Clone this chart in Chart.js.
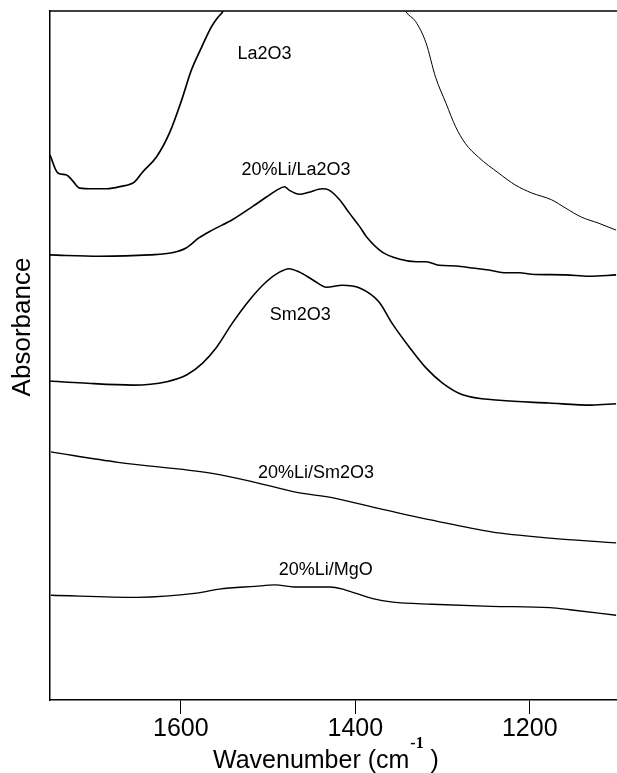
<!DOCTYPE html>
<html>
<head>
<meta charset="utf-8">
<script src="https://cdn.jsdelivr.net/npm/chart.js@4/dist/chart.umd.min.js"></script>
<style>
  html, body { margin: 0; padding: 0; background: #fff; }
  #wrap { width: 617px; height: 773px; }
</style>
</head>
<body>
<div id="wrap"><canvas id="irChart" width="617" height="773"></canvas></div>
<script>
// --- data (wavenumber, absorbance in arbitrary units) ---
const xTicks = [1600, 1400, 1200];

const la2o3Wn  = [1750, 1741, 1731, 1725, 1716, 1701, 1685, 1670, 1653, 1644, 1628, 1613, 1599, 1588, 1576, 1565, 1558, 1552, 1530, 1450, 1360, 1342, 1331, 1319, 1308, 1296, 1285, 1274, 1259, 1236, 1216, 1198, 1175, 1159, 1141, 1121, 1101];
const la2o3Abs = [7.91, 7.65, 7.62, 7.55, 7.43, 7.42, 7.42, 7.45, 7.52, 7.66, 7.88, 8.23, 8.71, 9.14, 9.48, 9.77, 9.90, 9.99, 10.6, 11.0, 10.5, 9.99, 9.85, 9.54, 9.04, 8.66, 8.32, 8.08, 7.88, 7.65, 7.47, 7.36, 7.26, 7.14, 7.01, 6.92, 6.82];

const liLaWn  = [1750, 1693, 1636, 1610, 1594, 1579, 1564, 1541, 1518, 1502, 1490, 1481, 1476, 1464, 1453, 1438, 1430, 1418, 1407, 1395, 1387, 1369, 1350, 1330, 1319, 1304, 1284, 1266, 1247, 1227, 1212, 1198, 1159, 1132, 1101];
const liLaAbs = [6.46, 6.44, 6.46, 6.49, 6.56, 6.71, 6.82, 6.97, 7.16, 7.30, 7.40, 7.45, 7.40, 7.34, 7.37, 7.42, 7.40, 7.26, 7.07, 6.87, 6.72, 6.50, 6.40, 6.36, 6.36, 6.31, 6.30, 6.27, 6.24, 6.20, 6.20, 6.18, 6.17, 6.15, 6.17];

const sm2o3Wn  = [1750, 1712, 1655, 1616, 1593, 1575, 1559, 1541, 1521, 1502, 1487, 1476, 1464, 1449, 1433, 1415, 1395, 1373, 1358, 1338, 1319, 1300, 1277, 1235, 1178, 1129, 1101];
const sm2o3Abs = [4.63, 4.60, 4.57, 4.62, 4.72, 4.89, 5.12, 5.47, 5.81, 6.07, 6.21, 6.26, 6.21, 6.10, 5.99, 6.02, 5.98, 5.78, 5.47, 5.12, 4.82, 4.60, 4.43, 4.35, 4.31, 4.28, 4.30];

const liSmWn  = [1749, 1672, 1564, 1515, 1470, 1424, 1380, 1312, 1244, 1177, 1101];
const liSmAbs = [3.60, 3.45, 3.29, 3.16, 3.02, 2.93, 2.80, 2.61, 2.44, 2.35, 2.28];

const liMgWn  = [1749, 1650, 1582, 1556, 1515, 1492, 1470, 1429, 1412, 1380, 1357, 1312, 1244, 1177, 1154, 1101];
const liMgAbs = [1.52, 1.49, 1.55, 1.61, 1.65, 1.67, 1.64, 1.64, 1.60, 1.47, 1.42, 1.39, 1.36, 1.34, 1.31, 1.23];

// curve labels: text, wavenumber, absorbance where the text is centred
const labelText = ['La2O3', '20%Li/La2O3', 'Sm2O3', '20%Li/Sm2O3', '20%Li/MgO'];
const labelWn   = [1504, 1468, 1463, 1445, 1434];
const labelAbs  = [9.37, 7.69, 5.59, 3.29, 1.89];

const FONT = '"Liberation Sans", Arial, Helvetica, sans-serif';

function pts(xs, ys) {
    return xs.map((x, i) => ({ x: x, y: ys[i] }));
}

function series(xs, ys, extra) {
    return Object.assign({
        data: pts(xs, ys),
        borderColor: '#000',
        borderWidth: 1.6,
        pointRadius: 0,
        cubicInterpolationMode: 'monotone',
        fill: false
    }, extra || {});
}

// frame top line, curve labels and axis titles
const decorations = {
    id: 'decorations',
    afterDraw(chart) {
        const { ctx, chartArea, scales } = chart;
        ctx.save();

        // top border of the frame
        ctx.strokeStyle = '#000';
        ctx.lineWidth = 1.5;
        ctx.beginPath();
        ctx.moveTo(chartArea.left, chartArea.top);
        ctx.lineTo(chartArea.right, chartArea.top);
        ctx.stroke();

        // curve labels
        ctx.fillStyle = '#000';
        ctx.font = '18px ' + FONT;
        ctx.textAlign = 'center';
        ctx.textBaseline = 'middle';
        labelText.forEach((t, i) => {
            ctx.fillText(t, scales.x.getPixelForValue(labelWn[i]), scales.y.getPixelForValue(labelAbs[i]));
        });

        // x axis title with superscript
        ctx.textAlign = 'left';
        ctx.textBaseline = 'alphabetic';
        ctx.font = '25px ' + FONT;
        const main = 'Wavenumber (cm';
        const x0 = 213, base = 768;
        ctx.fillText(main, x0, base);
        const w = ctx.measureText(main).width;
        ctx.font = 'bold 16px "Liberation Serif", "Times New Roman", serif';
        ctx.fillText('-1', x0 + w + 1, base - 20);
        const ws = ctx.measureText('-1').width;
        ctx.font = '25px ' + FONT;
        ctx.fillText(' )', x0 + w + ws + 1, base);

        // y axis title
        ctx.translate(23, 327);
        ctx.rotate(-Math.PI / 2);
        ctx.textAlign = 'center';
        ctx.textBaseline = 'middle';
        ctx.font = '26px ' + FONT;
        ctx.fillText('Absorbance', 0, 0);

        ctx.restore();
    }
};

const ctx = document.getElementById('irChart').getContext('2d');

new Chart(ctx, {
    type: 'line',
    data: {
        datasets: [
            series(la2o3Wn, la2o3Abs, {
                label: 'La2O3',
                segment: {
                    borderWidth: c => (c.p0.parsed.x < 1450 ? 1 : 1.7)
                }
            }),
            series(liLaWn, liLaAbs, { label: '20%Li/La2O3' }),
            series(sm2o3Wn, sm2o3Abs, { label: 'Sm2O3' }),
            series(liSmWn, liSmAbs, { label: '20%Li/Sm2O3', borderWidth: 1.3 }),
            series(liMgWn, liMgAbs, { label: '20%Li/MgO', borderWidth: 1.3 })
        ]
    },
    options: {
        responsive: false,
        animation: false,
        devicePixelRatio: 1,
        layout: { padding: { top: 11, right: 0, left: 0, bottom: 0 } },
        plugins: {
            legend: { display: false },
            tooltip: { enabled: false }
        },
        scales: {
            x: {
                type: 'linear',
                reverse: true,
                min: 1100,
                max: 1750,
                afterBuildTicks: s => { s.ticks = xTicks.map(v => ({ value: v })); },
                afterFit: s => { s.height = 73; },
                grid: {
                    drawOnChartArea: false,
                    drawTicks: true,
                    tickLength: 14,
                    color: '#000',
                    lineWidth: 1
                },
                border: { display: true, color: '#000', width: 1.5 },
                ticks: {
                    color: '#000',
                    padding: 0,
                    maxRotation: 0,
                    font: { size: 25, family: FONT },
                    callback: v => String(v)
                }
            },
            y: {
                min: 0,
                max: 10,
                afterFit: s => { s.width = 50; },
                grid: { display: false },
                border: { display: true, color: '#000', width: 1.5 },
                ticks: { display: false }
            }
        }
    },
    plugins: [decorations]
});
</script>
</body>
</html>
